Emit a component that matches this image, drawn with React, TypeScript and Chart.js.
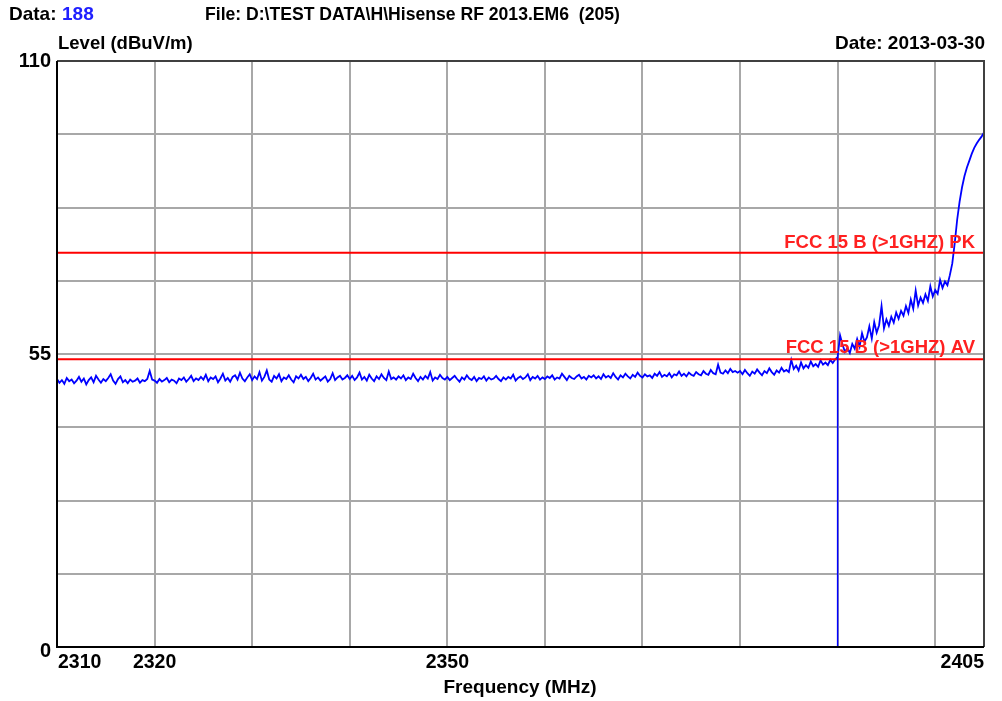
import React, { useEffect, useRef } from "react";
import { Chart, registerables } from "chart.js";

Chart.register(...registerables);

// Sweep settings
const START_MHZ = 2310;
const STOP_MHZ = 2405;
const STEP_MHZ = 0.25;

// Measured level (dBuV/m), one value per 0.25 MHz step
// 2310 - 2379.75 MHz
const levelsFlat: number[] = [
  50.3, 49.6, 50.1, 49.4, 50.5, 49.9, 50.2, 49.5, 50.0, 50.7, 49.8, 50.4, 49.3, 50.1, 50.6, 49.7, 50.9, 50.2, 49.6, 50.3,
  49.9, 50.5, 51.2, 50.0, 49.4, 50.3, 50.8, 49.7, 50.1, 49.5, 50.2, 49.8, 50.0, 50.4, 49.6, 50.1, 49.9, 50.3, 51.8, 50.2,
  50.0, 49.6, 50.3, 49.8, 50.1, 50.5, 49.7, 50.2, 50.0, 49.5, 50.4, 50.1, 50.6, 49.8, 50.3, 50.9, 49.9, 50.4, 50.1, 50.7,
  50.2, 51.1, 49.9, 50.6, 50.3, 50.8, 49.7, 50.4, 51.3, 50.0, 50.5, 49.8, 50.7, 51.0, 50.2, 51.5, 50.4, 49.9, 50.6, 51.2,
  50.1, 50.8, 50.3, 51.6, 50.0, 50.7, 51.9, 50.2, 49.8, 50.9, 50.4, 51.2, 49.9, 50.6, 50.3, 51.0, 50.2, 49.7, 50.8, 50.4,
  51.1, 50.3, 50.7, 49.9, 50.5, 51.3, 50.2, 50.6, 50.0, 50.4, 50.8, 49.8, 50.3, 51.4, 50.1, 50.6, 50.9, 50.2, 50.5, 51.0,
  50.3, 50.9, 50.1, 50.6, 51.5, 50.2, 50.7, 50.0, 51.1, 50.4, 49.9, 50.8, 50.3, 51.2, 50.5, 50.1, 51.7, 50.3, 50.6, 50.2,
  50.8, 50.4, 51.0, 50.1, 50.6, 50.3, 51.3, 50.5, 49.9, 50.7, 50.2, 50.9, 50.4, 51.6, 50.0, 50.6, 50.3, 51.1, 50.5, 50.2,
  50.7, 50.1, 50.5, 50.9, 50.3, 49.8, 50.6, 50.2, 51.0, 50.4, 50.1, 50.7, 49.9, 50.5, 50.3, 50.8, 50.0, 50.6, 50.2, 50.4,
  50.9, 50.3, 49.9, 50.6, 50.2, 50.7, 50.4, 51.1, 50.0, 50.5, 50.8, 50.3, 50.6, 51.2, 50.1, 50.7, 50.4, 50.9, 50.2, 50.6,
  50.3, 50.8, 50.5, 51.0, 50.2, 50.6, 50.4, 51.3, 50.7, 50.1, 50.9, 50.5, 50.3, 50.8, 51.1, 50.4, 50.7, 50.2, 50.9, 50.6,
  51.0, 50.4, 50.8, 50.3, 51.2, 50.6, 50.9, 50.5, 51.4, 50.7, 50.2, 51.0, 50.6, 51.3, 50.8, 50.4, 51.1, 50.7, 51.5, 50.9,
  50.6, 51.2, 50.8, 51.0, 50.5, 51.3, 50.9, 51.6, 50.7, 51.1, 50.8, 51.4, 50.6, 51.2, 51.0, 51.7, 50.9, 51.3, 50.8, 51.5,
  51.1, 50.9, 51.6, 51.2, 51.0, 51.8, 51.3, 51.1, 52.0, 51.4, 51.2, 53.0, 51.5, 51.3, 51.9, 51.4, 52.2, 51.6, 51.8, 51.5,
];
// 2380 - 2389.75 MHz
const levelsRise: number[] = [
  51.8, 51.2, 52.0, 51.4, 50.9, 51.7, 51.3, 52.1, 51.5, 51.0, 51.8, 51.4, 52.3, 51.6, 51.1, 51.9, 51.5, 52.4, 51.7, 52.0,
  51.6, 53.9, 52.2, 52.8, 51.9, 53.4, 52.3, 52.9, 52.4, 53.6, 52.7, 53.1, 52.6, 53.8, 53.0, 53.4, 52.9, 53.9, 53.3, 54.0,
];
// 2390 - 2405 MHz
const levelsEdge: number[] = [
  54.4, 58.5, 56.8, 55.4, 56.1, 55.2, 56.9, 56.0, 57.8, 56.4, 58.9, 57.3, 58.1, 60.2, 57.9, 61.0, 59.0, 60.4, 64.0, 59.8,
  61.5, 60.3, 62.0, 60.9, 62.8, 61.6, 63.1, 62.2, 64.0, 62.7, 65.2, 63.5, 66.9, 64.1, 65.6, 64.6, 66.2, 65.0, 67.7, 65.8,
  67.0, 66.3, 68.9, 67.4, 68.6, 67.9, 69.8, 72.0, 75.8, 80.2, 83.6, 86.3, 88.4, 90.0, 91.3, 92.6, 93.7, 94.5, 95.2, 95.8,
  96.6,
];
const levels: number[] = [...levelsFlat, ...levelsRise, ...levelsEdge];

// Limits
const LIMIT_PK = 74;
const LIMIT_AV = 54;
const LIMIT_PK_LABEL = "FCC 15 B (>1GHZ) PK";
const LIMIT_AV_LABEL = "FCC 15 B (>1GHZ) AV";

// Marker
const MARKER_MHZ = 2390;

// Axes
const Y_MIN = 0;
const Y_MAX = 110;
const Y_GRID: number[] = [0, 13.75, 27.5, 41.25, 55, 68.75, 82.5, 96.25, 110];
const Y_LABELS: number[] = [0, 55, 110];
const X_GRID: number[] = [2310, 2320, 2330, 2340, 2350, 2360, 2370, 2380, 2390, 2400, 2405];
const X_LABELS: number[] = [2310, 2320, 2350, 2405];

// Header texts
const DATA_INDEX = "188";
const FILE_TEXT = "File: D:\\TEST DATA\\H\\Hisense RF 2013.EM6  (205)";
const DATE_TEXT = "Date: 2013-03-30";
const Y_TITLE = "Level (dBuV/m)";
const X_TITLE = "Frequency (MHz)";

const FONT = '"Liberation Sans", Arial, sans-serif';

export default function App() {
  const ref = useRef<HTMLCanvasElement | null>(null);

  useEffect(() => {
    if (!ref.current) return;
    const trace = levels.map((v, i) => ({ x: START_MHZ + i * STEP_MHZ, y: v }));
    const markerIdx = Math.round((MARKER_MHZ - START_MHZ) / STEP_MHZ);

    const textPlugin = {
      id: "emcText",
      afterDraw(chart: any) {
        const ctx = chart.ctx as CanvasRenderingContext2D;
        const xs = chart.scales.x;
        const ys = chart.scales.y;
        const a = chart.chartArea;
        ctx.save();
        // frame
        ctx.strokeStyle = "#404040";
        ctx.lineWidth = 2;
        ctx.beginPath();
        ctx.moveTo(a.left, a.top);
        ctx.lineTo(a.right, a.top);
        ctx.lineTo(a.right, a.bottom);
        ctx.stroke();
        ctx.strokeStyle = "#000000";
        ctx.beginPath();
        ctx.moveTo(a.left, a.top);
        ctx.lineTo(a.left, a.bottom);
        ctx.lineTo(a.right, a.bottom);
        ctx.stroke();

        // limit labels
        ctx.fillStyle = "#ff2020";
        ctx.font = `bold 18.5px ${FONT}`;
        ctx.textAlign = "right";
        ctx.textBaseline = "alphabetic";
        ctx.fillText(LIMIT_PK_LABEL, a.right - 9, ys.getPixelForValue(LIMIT_PK) - 5);
        ctx.fillText(LIMIT_AV_LABEL, a.right - 9, ys.getPixelForValue(LIMIT_AV) - 6);

        // header
        ctx.fillStyle = "#000";
        ctx.textAlign = "left";
        ctx.textBaseline = "middle";
        ctx.font = `bold 19px ${FONT}`;
        ctx.fillText("Data:", 9, 15);
        ctx.fillStyle = "#2020ff";
        ctx.fillText(DATA_INDEX, 62, 15);
        ctx.fillStyle = "#000";
        ctx.font = `bold 17.6px ${FONT}`;
        ctx.fillText(FILE_TEXT, 205, 15);
        ctx.font = `bold 18.5px ${FONT}`;
        ctx.fillText(Y_TITLE, a.left + 1, 44);
        ctx.textAlign = "right";
        ctx.font = `bold 19px ${FONT}`;
        ctx.fillText(DATE_TEXT, a.right + 1, 44);

        // y labels
        ctx.font = `bold 20px ${FONT}`;
        ctx.textAlign = "right";
        for (const v of Y_LABELS) {
          let y = ys.getPixelForValue(v);
          if (v === Y_MIN) y += 4;
          ctx.fillText(String(v), a.left - 6, y);
        }
        // x labels
        ctx.font = `bold 19.5px ${FONT}`;
        for (const v of X_LABELS) {
          const x = xs.getPixelForValue(v);
          if (v === START_MHZ) ctx.textAlign = "left";
          else if (v === STOP_MHZ) ctx.textAlign = "right";
          else ctx.textAlign = "center";
          ctx.fillText(String(v), v === START_MHZ ? x + 1 : x, a.bottom + 16);
        }
        ctx.textAlign = "center";
        ctx.font = `bold 19px ${FONT}`;
        ctx.fillText(X_TITLE, 520, a.bottom + 41);
        ctx.restore();
      },
    };

    const chart = new Chart(ref.current, {
      type: "line",
      data: {
        datasets: [
          {
            data: [{ x: MARKER_MHZ, y: 0 }, { x: MARKER_MHZ, y: levels[markerIdx] }],
            borderColor: "#0000ff",
            borderWidth: 1.5,
            pointRadius: 0,
          },
          {
            data: [{ x: START_MHZ, y: LIMIT_PK }, { x: STOP_MHZ, y: LIMIT_PK }],
            borderColor: "#ff0000",
            borderWidth: 2,
            pointRadius: 0,
          },
          {
            data: [{ x: START_MHZ, y: LIMIT_AV }, { x: STOP_MHZ, y: LIMIT_AV }],
            borderColor: "#ff0000",
            borderWidth: 2,
            pointRadius: 0,
          },
          {
            data: trace,
            borderColor: "#0000ff",
            borderWidth: 1.8,
            pointRadius: 0,
            tension: 0,
          },
        ],
      },
      options: {
        animation: false,
        responsive: false,
        events: [],
        layout: { padding: { left: 57, right: 18, top: 61, bottom: 54 } },
        plugins: { legend: { display: false }, tooltip: { enabled: false } },
        scales: {
          x: {
            type: "linear",
            min: START_MHZ,
            max: STOP_MHZ,
            afterBuildTicks: (s: any) => {
              s.ticks = X_GRID.map((v) => ({ value: v }));
            },
            ticks: { display: false },
            grid: { color: "#a8a8a8", lineWidth: 2, drawTicks: false },
            border: { display: false },
          },
          y: {
            type: "linear",
            min: Y_MIN,
            max: Y_MAX,
            afterBuildTicks: (s: any) => {
              s.ticks = Y_GRID.map((v) => ({ value: v }));
            },
            ticks: { display: false },
            grid: { color: "#a8a8a8", lineWidth: 2, drawTicks: false },
            border: { display: false },
          },
        },
      },
      plugins: [textPlugin],
    });
    return () => chart.destroy();
  }, []);

  return (
    <div style={{ position: "absolute", left: 0, top: 0, width: 1002, height: 701, background: "#fff" }}>
      <canvas ref={ref} width={1002} height={701} />
    </div>
  );
}
